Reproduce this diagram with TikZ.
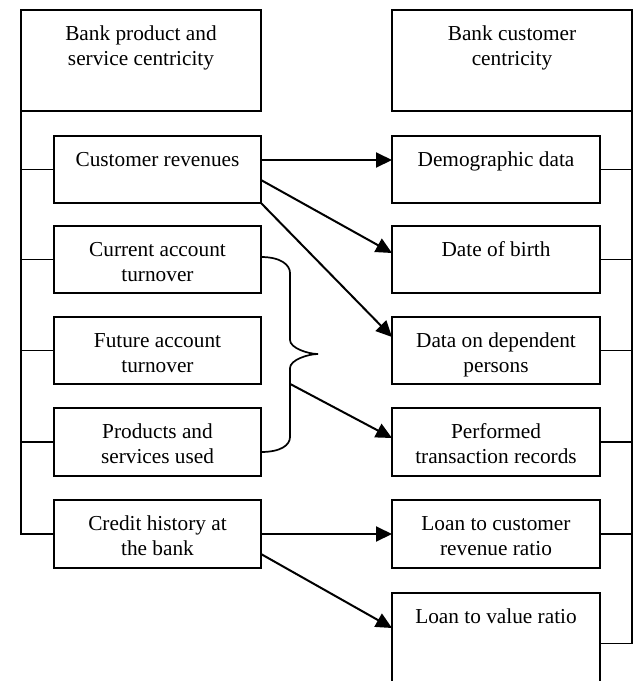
\documentclass[tikz,border=0pt]{standalone}
\usepackage{fontspec}
\setmainfont{Liberation Serif}
\usepackage{tikz}
\usetikzlibrary{arrows.meta}
\newcommand{\celltext}[3]{\parbox[c][#2][t]{#1}{\centering\rule{0pt}{15.3pt}#3}}

\begin{document}
\begin{tikzpicture}[x=0.5pt, y=-0.5pt,
	font=\fontsize{10.65pt}{12.25pt}\selectfont,
	box/.style={draw, line width=1pt, inner sep=0pt, outer sep=0pt},
	tree/.style={line width=0.85pt},
	arr/.style={line width=1pt, -{Triangle[length=8pt, width=7.5pt]}}]
	% Boxes, tree lines and arrows:
	\useasboundingbox (0, 0) rectangle (633, 681);
	\clip (0, 0) rectangle (633, 681);
	\node[box] (prodhead) at (141, 60.5) {\celltext{120pt}{50.5pt}{Bank product and\\service centricity}};
	\node[box] (cust) at (157.5, 169.5) {\celltext{103.5pt}{33.5pt}{Customer revenues}};
	\node[box] (curacc) at (157.5, 259.5) {\celltext{103.5pt}{33.5pt}{Current account\\turnover}};
	\node[box] (futacc) at (157.5, 350.5) {\celltext{103.5pt}{33.5pt}{Future account\\turnover}};
	\node[box] (prodused) at (157.5, 442) {\celltext{103.5pt}{34pt}{Products and\\services used}};
	\node[box] (credit) at (157.5, 534) {\celltext{103.5pt}{34pt}{Credit history at\\the bank}};
	\node[box] (custhead) at (512, 60.5) {\celltext{120pt}{50.5pt}{Bank customer\\centricity}};
	\node[box] (demo) at (496, 169.5) {\celltext{104pt}{33.5pt}{Demographic data}};
	\node[box] (birth) at (496, 259.5) {\celltext{104pt}{33.5pt}{Date of birth}};
	\node[box] (depend) at (496, 350.5) {\celltext{104pt}{33.5pt}{Data on dependent\\persons}};
	\node[box] (trans) at (496, 442) {\celltext{104pt}{34pt}{Performed\\transaction records}};
	\node[box] (loanrev) at (496, 534) {\celltext{104pt}{34pt}{Loan to customer\\revenue ratio}};
	\node[box] (ltv) at (496, 643.5) {\celltext{104pt}{50.5pt}{Loan to value ratio}};
	\draw[tree] (prodhead.south west) |- (credit.west);
	\draw[tree] (cust.west) -- (cust.west -| prodhead.west);
	\draw[tree] (curacc.west) -- (curacc.west -| prodhead.west);
	\draw[tree] (futacc.west) -- (futacc.west -| prodhead.west);
	\draw[tree] (prodused.west) -- (prodused.west -| prodhead.west);
	\draw[tree] (custhead.south east) |- (ltv.east);
	\draw[tree] (demo.east) -- (demo.east -| custhead.east);
	\draw[tree] (birth.east) -- (birth.east -| custhead.east);
	\draw[tree] (depend.east) -- (depend.east -| custhead.east);
	\draw[tree] (trans.east) -- (trans.east -| custhead.east);
	\draw[tree] (loanrev.east) -- (loanrev.east -| custhead.east);
	\draw[arr] ([yshift=4.75pt]cust.east) -- ([yshift=4.75pt]demo.west);
	\draw[arr] ([yshift=-5.25pt]cust.east) -- ([yshift=3.25pt]birth.west);
	\draw[arr] (cust.south east) -- ([yshift=6.75pt]depend.west);
	\draw[tree] ([yshift=1.25pt]curacc.east) .. controls +(20, 0) and +(0, -8) .. ++(29, 16)
		-- ++(0, 67) .. controls +(0, 8) and +(-10, 0) .. ++(28, 14)
		.. controls +(-10, 0) and +(0, -8) .. ++(-28, 14)
		-- coordinate[pos=0.23] (bout) ++(0, 69) .. controls +(0, 8) and +(20, 0) .. ++(-29, 15);
	\draw[arr] (bout) -- ([yshift=2pt]trans.west);
	\draw[arr] (credit.east) -- (loanrev.west);
	\draw[arr] ([yshift=-10pt]credit.east) -- ([yshift=7.75pt]ltv.west);
\end{tikzpicture}
\end{document}
